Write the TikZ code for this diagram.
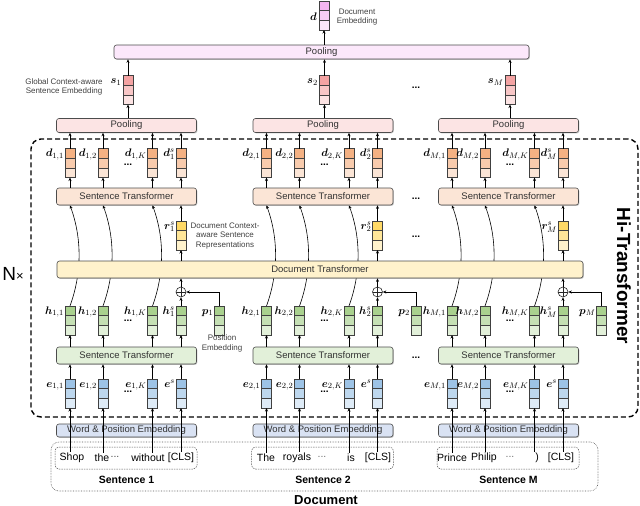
\documentclass[tikz,border=0pt]{standalone}
\usepackage{fontspec}
\setmainfont{Liberation Sans}
\usepackage{amsmath,bm}
\usetikzlibrary{arrows.meta,shadows,backgrounds,calc}
\definecolor{cV1}{HTML}{F5B5F1}\definecolor{cV2}{HTML}{F7CDF4}\definecolor{cV3}{HTML}{FBE7F9}\definecolor{cGP}{HTML}{FCE8FB}
\definecolor{cS1}{HTML}{F4A3A3}\definecolor{cS2}{HTML}{F8C6C6}\definecolor{cS3}{HTML}{FCE3E3}\definecolor{cPL}{HTML}{FCE4E4}
\definecolor{cO1}{HTML}{F4B183}\definecolor{cO2}{HTML}{F8CBAD}\definecolor{cO3}{HTML}{FBE5D6}\definecolor{cSTU}{HTML}{FBE5D6}
\definecolor{cY1}{HTML}{FFD966}\definecolor{cY2}{HTML}{FFE699}\definecolor{cY3}{HTML}{FFF2CC}\definecolor{cDT}{HTML}{FFF2CC}
\definecolor{cG1}{HTML}{A9D18E}\definecolor{cG2}{HTML}{C5E0B4}\definecolor{cG3}{HTML}{E2F0D9}\definecolor{cSTL}{HTML}{E2F0D9}
\definecolor{cB1}{HTML}{9DC3E6}\definecolor{cB2}{HTML}{BDD7EE}\definecolor{cB3}{HTML}{DEEBF7}\definecolor{cWP}{HTML}{D9E2F3}
\definecolor{txt}{HTML}{333333}
\tikzset{
  every node/.style={font=\fontsize{9.5}{11}\selectfont},
  box/.style={draw=black!70, rounded corners=2.5pt, line width=0.6pt, inner sep=0pt, text=txt,
    drop shadow={shadow xshift=0.9pt, shadow yshift=-0.9pt, opacity=0.35, fill=black!60}},
  vecbox/.style n args={3}{rectangle, draw=black!75, line width=0.6pt, minimum width=10pt,
    minimum height=29pt, inner sep=0pt, outer sep=0pt,
    path picture={
      \fill[#1] (path picture bounding box.north west) rectangle ([yshift=-9.667pt]path picture bounding box.north east);
      \fill[#2] ([yshift=-9.667pt]path picture bounding box.north west) rectangle ([yshift=-19.333pt]path picture bounding box.north east);
      \fill[#3] ([yshift=-19.333pt]path picture bounding box.north west) rectangle (path picture bounding box.south east);
      \draw[black!75, line width=0.6pt]
        ([yshift=-9.667pt]path picture bounding box.north west) -- ([yshift=-9.667pt]path picture bounding box.north east)
        ([yshift=-19.333pt]path picture bounding box.north west) -- ([yshift=-19.333pt]path picture bounding box.north east);
    }},
  plusnode/.style={circle, draw=black!85, line width=0.6pt, fill=white, minimum size=10pt, inner sep=0pt,
    path picture={\draw[line width=0.6pt] (path picture bounding box.west) -- (path picture bounding box.east)
      (path picture bounding box.north) -- (path picture bounding box.south);}},
  arr/.style={-{Stealth[length=3.5pt,width=3pt]}, line width=0.6pt, black},
  mlab/.style={anchor=base east, inner sep=0pt, font=\fontsize{11}{12}\selectfont},
  note/.style={font=\fontsize{8}{9.7}\selectfont, align=center, text=black!75, inner sep=0pt},
  dotsl/.style={font=\fontsize{10}{11}\selectfont\bfseries, inner sep=0pt},
  word/.style={font=\fontsize{10.5}{12}\selectfont, inner sep=1pt},
  sentbox/.style={draw=black!65, dash pattern=on 1.5pt off 1pt, line width=0.5pt, rounded corners=4pt,
    minimum width=142pt, minimum height=22pt, inner sep=0pt},
  hibox/.style={draw=black, dash pattern=on 5pt off 3pt, line width=1.4pt, rounded corners=10pt, inner sep=0pt},
}
\begin{document}
\begin{tikzpicture}[x=1pt,y=-1pt]
\useasboundingbox (0,0) rectangle (640,506);

% Hi-Transformer frame
\node[hibox, minimum width=607pt, minimum height=278pt] (hi) at (334.5,278) {};
\node[font=\fontsize{19}{20}\selectfont\bfseries, rotate=-90] (hilab) at (624,276) {Hi-Transformer};
\node[inner sep=0pt] (nx) at (13,274) {\fontsize{19}{20}\selectfont N\fontsize{13}{14}\selectfont×};

% document embedding & global pooling
\node[vecbox={cV1}{cV2}{cV3}] (dd) at (324,15.5) {};
\node[mlab] (ddl) at (317,20) {$\bm{d}$};
\node[note] (ddn) at (357,17) {Document\\Embedding};
\node[box, fill=cGP, minimum width=415pt, minimum height=14pt] (gpool) at (321.5,52) {Pooling};
\draw[arr] (dd |- gpool.north) -- (dd.south);

% document transformer
\node[box, fill=cDT, minimum width=526pt, minimum height=17pt] (dt) at (320,269.5) {Document Transformer};

% outer document box
\node[draw=black!65, densely dotted, line width=0.6pt, rounded corners=8pt, minimum width=547pt, minimum height=49pt, inner sep=0pt] (docbox) at (324.5,466.5) {};
\node[font=\fontsize{13}{14}\selectfont\bfseries] (doclab) at (326,500) {Document};

\foreach \cx/\cl in {126.5/1,323/2,508.5/M}{
  \pgfmathsetmacro\xa{\cx-56.5}
  \pgfmathsetmacro\xb{\cx-23.5}
  \pgfmathsetmacro\xk{\cx+26}
  \pgfmathsetmacro\xs{\cx+54.5}
  \pgfmathsetmacro\xm{\cx+1.5}
  \pgfmathsetmacro\xp{\cx+93}
  % boxes
  \node[box, fill=cPL, minimum width=140pt, minimum height=14pt] (pool\cl) at (\cx,125.5) {Pooling};
  \node[box, fill=cSTU, minimum width=140pt, minimum height=17pt] (stu\cl) at (\cx,196.5) {Sentence Transformer};
  \node[box, fill=cSTL, minimum width=140pt, minimum height=17pt] (stl\cl) at (\cx,355.5) {Sentence Transformer};
  \node[box, fill=cWP, minimum width=140pt, minimum height=13pt] (wpe\cl) at (\cx,430.5) {Word \& Position Embedding};
  \node[sentbox] (sb\cl) at (\cx-0.5,458) {};
  \node[font=\fontsize{10.5}{12}\selectfont\bfseries] (sl\cl) at (\cx,480) {Sentence \cl};
  % sentence embedding
  \node[vecbox={cS1}{cS2}{cS3}] (s\cl) at (\xm,90) {};
  \node[mlab] at ([xshift=-1.5pt,yshift=-8pt]s\cl.north west) {$\bm{s}_{\cl}$};
  \draw[arr] (s\cl |- pool\cl.north) -- (s\cl.south);
  \draw[arr] (s\cl.north) -- (s\cl |- gpool.south);
  % token vectors
  \foreach \v/\xx/\sub in {a/\xa/{\cl,1}, b/\xb/{\cl,2}, k/\xk/{\cl,K}}{
    \node[vecbox={cO1}{cO2}{cO3}] (d\cl\v) at (\xx,163) {};
    \node[mlab] at ([xshift=-1pt,yshift=-8pt]d\cl\v.north west) {$\bm{d}_{\sub}$};
    \draw[arr] (d\cl\v.north) -- (d\cl\v |- pool\cl.south);
    \draw[arr] (d\cl\v |- stu\cl.north) -- (d\cl\v.south);
    \node[vecbox={cG1}{cG2}{cG3}] (h\cl\v) at (\xx,320.5) {};
    \node[mlab] at ([xshift=-1pt,yshift=-8pt]h\cl\v.north west) {$\bm{h}_{\sub}$};
    \draw[arr] (h\cl\v |- stl\cl.north) -- (h\cl\v.south);
    \begin{scope}[on background layer]
      \draw[arr] (h\cl\v.north) .. controls +(12,-33) and +(12,33) .. (h\cl\v |- stu\cl.south);
    \end{scope}
    \node[vecbox={cB1}{cB2}{cB3}] (e\cl\v) at (\xx,393.5) {};
    \node[mlab] at ([xshift=-1pt,yshift=-8pt]e\cl\v.north west) {$\bm{e}_{\sub}$};
    \draw[arr] (e\cl\v.north) -- (e\cl\v |- stl\cl.south);
  }
  % sentence-level vectors
  \node[vecbox={cO1}{cO2}{cO3}] (d\cl s) at (\xs,163) {};
  \node[mlab] at ([xshift=-1pt,yshift=-8pt]d\cl s.north west) {$\bm{d}^{s}_{\cl}$};
  \draw[arr] (d\cl s.north) -- (d\cl s |- pool\cl.south);
  \draw[arr] (d\cl s |- stu\cl.north) -- (d\cl s.south);
  \node[vecbox={cY1}{cY2}{cY3}] (r\cl) at (\xs,235.5) {};
  \node[mlab] at ([xshift=-1pt,yshift=-8pt]r\cl.north west) {$\bm{r}^{s}_{\cl}$};
  \draw[arr] (r\cl.north) -- (r\cl |- stu\cl.south);
  \draw[arr] (r\cl |- dt.north) -- (r\cl.south);
  \node[plusnode] (plus\cl) at (\xs,292) {};
  \node[vecbox={cG1}{cG2}{cG3}] (h\cl s) at (\xs,320.5) {};
  \node[mlab] at ([xshift=-1pt,yshift=-8pt]h\cl s.north west) {$\bm{h}^{s}_{\cl}$};
  \draw[arr] (h\cl s |- stl\cl.north) -- (h\cl s.south);
  \draw[arr] (h\cl s.north) -- (plus\cl.south);
  \draw[arr] (plus\cl.north) -- (plus\cl |- dt.south);
  \node[vecbox={cG1}{cG2}{cG3}] (p\cl) at (\xp,320.5) {};
  \node[mlab] at ([xshift=-1pt,yshift=-8pt]p\cl.north west) {$\bm{p}_{\cl}$};
  \draw[arr] (p\cl.north) |- (plus\cl.east);
  \node[vecbox={cB1}{cB2}{cB3}] (e\cl s) at (\xs,393.5) {};
  \node[mlab] at ([xshift=-1pt,yshift=-8pt]e\cl s.north west) {$\bm{e}^{s}$};
  \draw[arr] (e\cl s.north) -- (e\cl s |- stl\cl.south);
  % dots inside column
  \node[dotsl] at (\xm,165) {...};
  \node[dotsl] at (\xm,321) {...};
  \node[dotsl] at (\xm,392) {...};
}

% dots between columns
\node[dotsl] at (416,88) {...};
\node[dotsl] at (416,199) {...};
\node[dotsl] at (416,237) {...};
\node[dotsl] at (416,358) {...};

% notes
\node[note] (gnote) at (64,87) {Global Context-aware\\Sentence Embedding};
\node[note] (rnote) at (225,236) {Document Context-\\aware Sentence\\Representations};
\node[note] (pnote) at (222,343.5) {Position\\Embedding};

% words, sentence 1
\node[word] (w1a) at (72,458) {Shop};
\node[word] (w1b) at (102,458) {the};
\node[word, text=black!70] (w1d) at (115,457) {...};
\node[word] (w1k) at (148,458) {without};
\node[word] (w1s) at (181,458) {[CLS]};
% sentence 2
\node[word] (w2a) at (266,458) {The};
\node[word] (w2b) at (297,458) {royals};
\node[word, text=black!55] (w2d) at (322,457) {...};
\node[word] (w2k) at (351,458) {is};
\node[word] (w2s) at (378,458) {[CLS]};
% sentence M
\node[word] (wMa) at (452,458) {Prince};
\node[word] (wMb) at (484,458) {Philip};
\node[word, text=black!55] (wMd) at (510,457) {...};
\node[word] (wMk) at (537,458) {)};
\node[word] (wMs) at (561,458) {[CLS]};

\foreach \cl in {1,2,M}{
  \foreach \v in {a,b,k,s}{
    \draw[arr] (e\cl\v |- w\cl\v.north) -- (e\cl\v.south);
  }
}
\end{tikzpicture}
\end{document}
